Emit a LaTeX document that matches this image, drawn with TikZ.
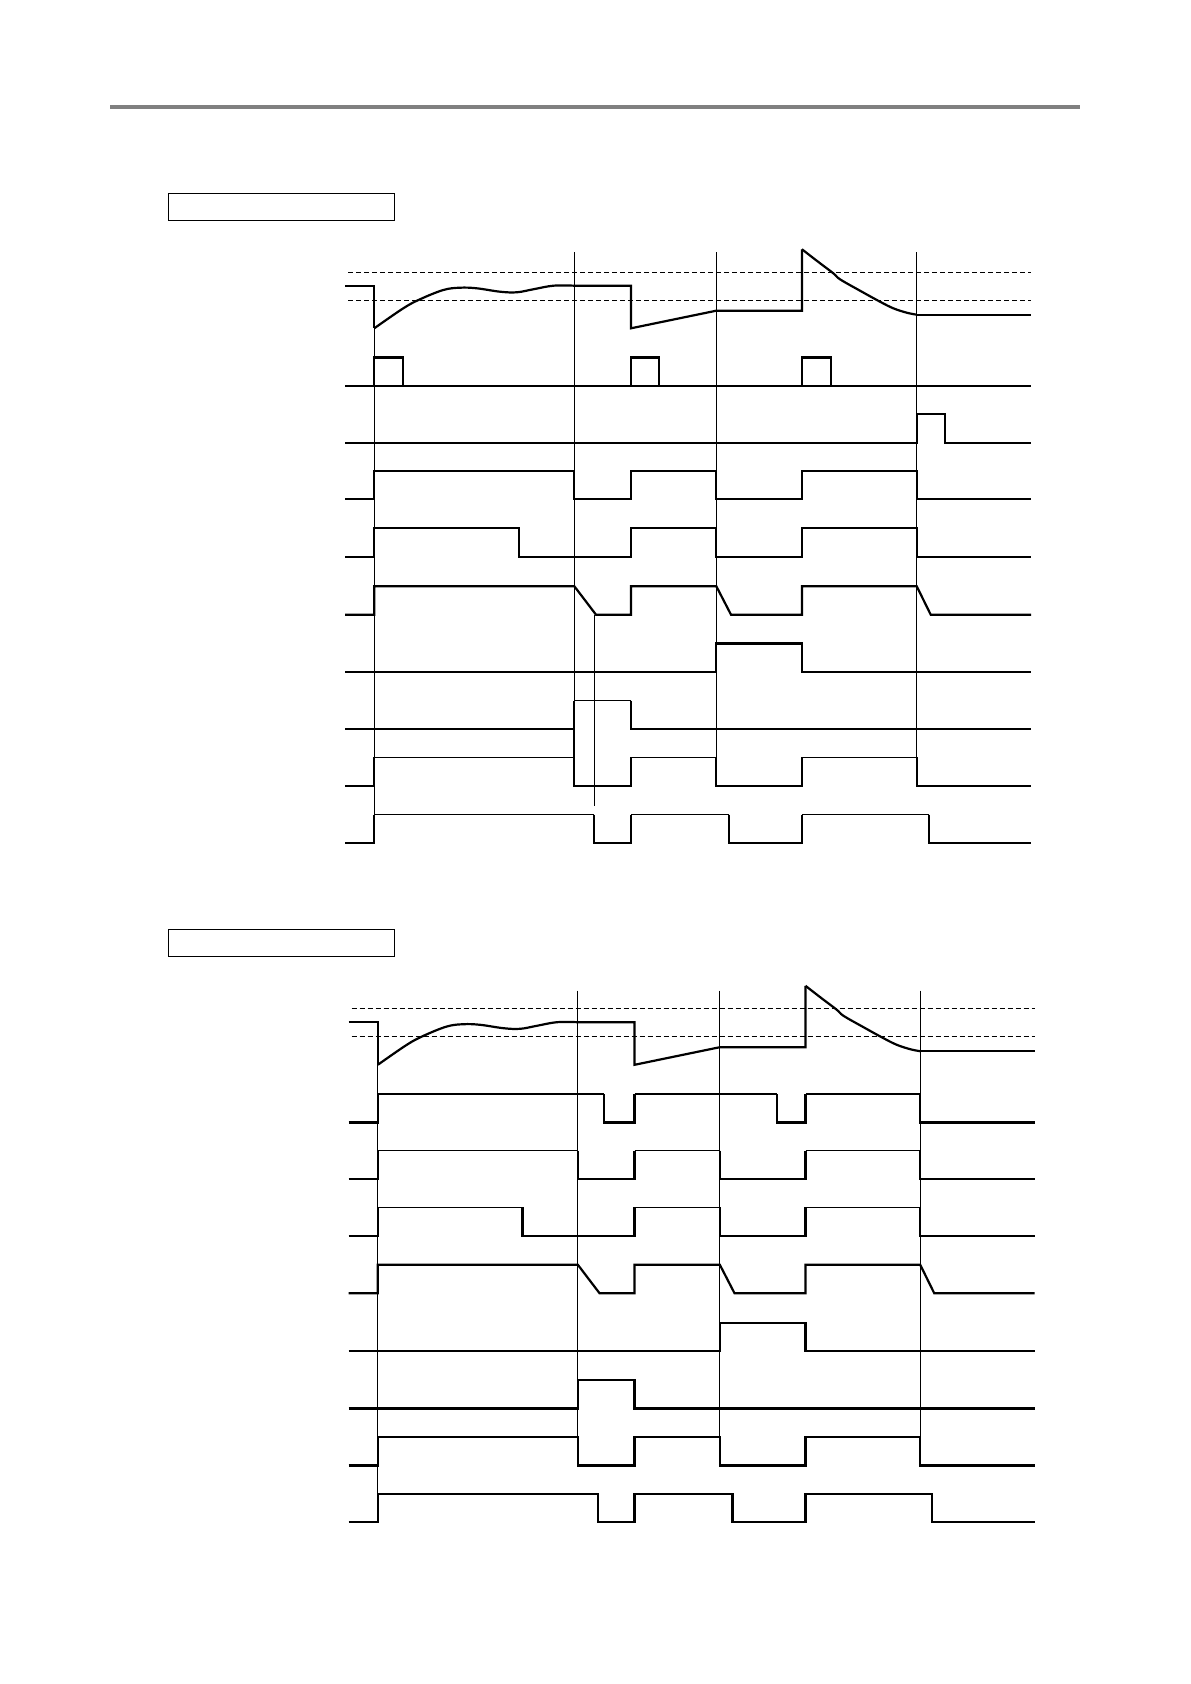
\documentclass[tikz,border=0pt]{standalone}
\usepackage{tikz}

% analog trace with both limits, shared by the two charts
\newcommand{\analogtrace}{%
  \draw[lim] (348,272.3) -- (1031,272.3);
  \draw[lim] (348,300.3) -- (1031,300.3);
  \draw[sig] (345,285.7) -- (374.3,285.7) -- (374.3,328.3);
  \draw[sig] plot[smooth, tension=0.6] coordinates {(374.3,328.3) (403.3,308.3)
    (420,299.3) (443.3,290) (460,287.7) (476.7,288.3) (500,291.7) (516.7,292.3)
    (533.3,289.3) (553.3,285.7) (574.3,285.7)};
  \draw[sig] (574.3,285.7) -- (631,285.7) -- (631,328.3) -- (716.3,310.7)
    -- (802,310.7) -- (802,249.3);
  \draw[sig] plot[smooth, tension=0.6] coordinates {(802,249.3) (816.7,260.7)
    (833.3,273.3) (840,279.3) (860,290.7) (880,301.7) (893.3,308.3) (906.7,312.7)
    (916.7,314.7)};
  \draw[sig] (916.7,314.7) -- (1031,314.7);
}

\begin{document}
\begin{tikzpicture}[
  x=0.5pt, y=-0.5pt,
  sig/.style={line width=1.1pt, line join=miter},
  sigthin/.style={line width=0.6pt},
  tline/.style={line width=0.55pt},
  lim/.style={line width=0.55pt, dash pattern=on 2.5pt off 1.5pt},
  titlebox/.style={draw, line width=0.75pt, inner sep=0pt,
                   minimum width=113pt, minimum height=13.5pt}
]
\useasboundingbox (0,0) rectangle (1190,1684);

% header rule
\draw[line width=2pt, gray] (110,107) -- (1079.5,107);

% ---------------- first chart ----------------
\node[titlebox] (box1) at (281.3,206.8) {};

\analogtrace

% time marks
\draw[tline] (374.3,285.7) -- (374.3,814.3);
\draw[tline] (574.3,252.3) -- (574.3,785.7);
\draw[tline] (716.3,252.3) -- (716.3,785.7);
\draw[tline] (916.7,252.3) -- (916.7,785.7);
\draw[tline] (594.3,614.7) -- (594.3,806);

% row 2
\begin{scope}[shift={(0,386)}]
\draw[sigthin] (345,0) -- (1031,0);
\draw[sig] (374.3,0) |- (402.7,-28.5) -- (402.7,0);
\draw[sig] (631,0) |- (659.3,-28.5) -- (659.3,0);
\draw[sig] (802,0) |- (831,-28.5) -- (831,0);
\end{scope}

% row 3
\begin{scope}[shift={(0,442.7)}]
\draw[sig] (345,0) -| (916.7,-28.5) -| (945,0) -- (1031,0);
\end{scope}

% row 4
\begin{scope}[shift={(0,499.3)}]
\draw[sig] (345,0) -| (374.3,-28.5) -| (574.3,0) -| (631,-28.5) -| (716.3,0)
  -| (802,-28.5) -| (916.7,0) -- (1031,0);
\end{scope}

% row 5
\begin{scope}[shift={(0,556.7)}]
\draw[sig] (345,0) -| (374.3,-28.5) -| (519,0) -| (631,-28.5) -| (716.3,0)
  -| (802,-28.5) -| (916.7,0) -- (1031,0);
\end{scope}

% row 6
\begin{scope}[shift={(0,614.7)}]
\draw[sig] (345,0) -| (374.3,-28.5) -- (574.3,-28.5) -- (596,0) -| (631,-28.5)
  -- (716.3,-28.5) -- (731,0) -| (802,-28.5) -- (916.7,-28.5) -- (930.7,0) -- (1031,0);
\end{scope}

% row 7
\begin{scope}[shift={(0,672)}]
\draw[sig] (345,0) -| (716.3,-28.5) -| (802,0) -- (1031,0);
\end{scope}

% row 8
\begin{scope}[shift={(0,729)}]
\draw[sigthin] (574.3,-28.5) -- (631,-28.5);
\draw[sig] (345,0) -| (574.3,-28.5);
\draw[sig] (631,-28.5) |- (1031,0);
\end{scope}

% row 9
\begin{scope}[shift={(0,785.7)}]
\draw[sigthin] (374.3,-28.5) -- (574.3,-28.5) (631,-28.5) -- (716.3,-28.5)
  (802,-28.5) -- (916.7,-28.5);
\draw[sig] (345,0) -| (374.3,-28.5);
\draw[sig] (574.3,-57) -- (574.3,0) -| (631,-28.5);
\draw[sig] (716.3,-28.5) |- (802,0) -- (802,-28.5);
\draw[sig] (916.7,-28.5) |- (1031,0);
\end{scope}

% row 10
\begin{scope}[shift={(0,843)}]
\draw[sigthin] (374.3,-28.5) -- (594.3,-28.5) (631,-28.5) -- (729,-28.5)
  (802,-28.5) -- (928.7,-28.5);
\draw[sig] (345,0) -| (374.3,-28.5);
\draw[sig] (594.3,-28.5) |- (631,0) -- (631,-28.5);
\draw[sig] (729,-28.5) |- (802,0) -- (802,-28.5);
\draw[sig] (928.7,-28.5) |- (1031,0);
\end{scope}

% ---------------- second chart ----------------
\node[titlebox] (box2) at (281.3,942.8) {};

\begin{scope}[shift={(3.5,736.5)}]
\analogtrace

% time marks
\draw[tline] (374.3,285.7) -- (374.3,757.2);
\draw[tline] (574.3,254) -- (574.3,729);
\draw[tline] (716.3,254) -- (716.3,729);
\draw[tline] (916.7,254) -- (916.7,729);

% row 2
\begin{scope}[shift={(0,386)}]
\draw[sigthin] (374.3,-28.5) -- (600.8,-28.5) (631,-28.5) -- (773.5,-28.5)
  (802,-28.5) -- (916.7,-28.5);
\draw[sig] (345,0) -| (374.3,-28.5);
\draw[sig] (600.8,-28.5) |- (631,0) -- (631,-28.5);
\draw[sig] (773.5,-28.5) |- (802,0) -- (802,-28.5);
\draw[sig] (916.7,-28.5) |- (1031,0);
\end{scope}

% row 3
\begin{scope}[shift={(0,442.7)}]
\draw[sigthin] (374.3,-28.5) -- (574.3,-28.5) (631,-28.5) -- (716.3,-28.5)
  (802,-28.5) -- (916.7,-28.5);
\draw[sig] (345,0) -| (374.3,-28.5);
\draw[sig] (574.3,-28.5) |- (631,0) -- (631,-28.5);
\draw[sig] (716.3,-28.5) |- (802,0) -- (802,-28.5);
\draw[sig] (916.7,-28.5) |- (1031,0);
\end{scope}

% row 4
\begin{scope}[shift={(0,499.3)}]
\draw[sigthin] (374.3,-28.5) -- (519,-28.5) (631,-28.5) -- (716.3,-28.5)
  (802,-28.5) -- (916.7,-28.5);
\draw[sig] (345,0) -| (374.3,-28.5);
\draw[sig] (519,-28.5) |- (631,0) -- (631,-28.5);
\draw[sig] (716.3,-28.5) |- (802,0) -- (802,-28.5);
\draw[sig] (916.7,-28.5) |- (1031,0);
\end{scope}

% row 5
\begin{scope}[shift={(0,556.7)}]
\draw[sig] (345,0) -| (374.3,-28.5) -- (574.3,-28.5) -- (596,0) -| (631,-28.5)
  -- (716.3,-28.5) -- (731,0) -| (802,-28.5) -- (916.7,-28.5) -- (930.7,0) -- (1031,0);
\end{scope}

% row 6
\begin{scope}[shift={(0,614.7)}]
\draw[sig] (345,0) -| (716.3,-28.5) -| (802,0) -- (1031,0);
\end{scope}

% row 7
\begin{scope}[shift={(0,672)}]
\draw[sig] (345,0) -| (574.3,-28.5) -| (631,0) -- (1031,0);
\end{scope}

% row 8
\begin{scope}[shift={(0,729)}]
\draw[sig] (345,0) -| (374.3,-28.5) -| (574.3,0) -| (631,-28.5) -| (716.3,0)
  -| (802,-28.5) -| (916.7,0) -- (1031,0);
\end{scope}

% row 9
\begin{scope}[shift={(0,785.7)}]
\draw[sig] (345,0) -| (374.3,-28.5) -| (594.3,0) -| (631,-28.5) -| (729,0)
  -| (802,-28.5) -| (928.7,0) -- (1031,0);
\end{scope}
\end{scope}

\end{tikzpicture}
\end{document}
